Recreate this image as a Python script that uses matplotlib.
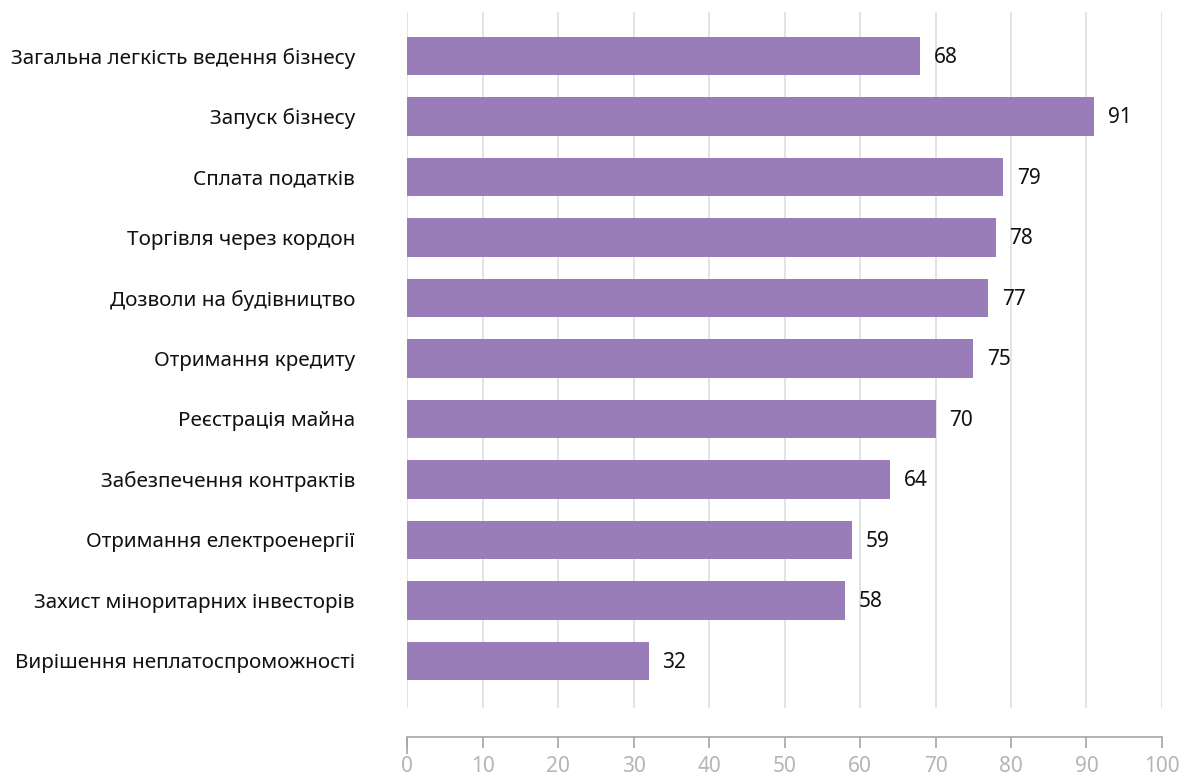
import matplotlib
matplotlib.use("Agg")
import matplotlib.pyplot as plt

plt.rcParams['font.family'] = ['Noto Sans', 'DejaVu Sans']

categories = [
    "Загальна легкість ведення бізнесу",
    "Запуск бізнесу",
    "Сплата податків",
    "Торгівля через кордон",
    "Дозволи на будівництво",
    "Отримання кредиту",
    "Реєстрація майна",
    "Забезпечення контрактів",
    "Отримання електроенергії",
    "Захист міноритарних інвесторів",
    "Вирішення неплатоспроможності",
]
values = [68, 91, 79, 78, 77, 75, 70, 64, 59, 58, 32]
x_ticks = [0, 10, 20, 30, 40, 50, 60, 70, 80, 90, 100]

bar_color = "#997db8"
grid_color = "#dedede"
axis_color = "#a6a6a6"

fig = plt.figure(figsize=(11.84, 7.78), dpi=100)
ax = fig.add_axes([0.3438, 0.09, 0.9814 - 0.3438, 0.9846 - 0.09])

pos = list(range(len(categories)))
ax.barh(pos, values, height=0.63, color=bar_color, zorder=3)
for p, v in zip(pos, values):
    ax.text(v + 1.8, p + 0.02, str(v), va="center", ha="left", fontsize=15, color="#111111")

ax.set_xlim(0, 100)
ax.set_ylim(10.777, -0.727)
ax.set_yticks(pos)
ax.set_yticklabels(categories)
ax.tick_params(axis="y", length=0, pad=37.5, labelsize=14.9, labelcolor="#111111")

ax.set_xticks(x_ticks)
ax.set_xticklabels([str(t) for t in x_ticks])
ax.tick_params(axis="x", length=8, width=1.2, color=axis_color, pad=6,
               labelsize=15, labelcolor="#b5b5b5")
# longer tick at zero
ax.xaxis.remove_overlapping_locs = False
ax.set_xticks([0], minor=True)
ax.set_xticklabels([""], minor=True)
ax.tick_params(axis="x", which="minor", length=12, width=1.2, color=axis_color)
ax.grid(axis="x", which="major", color=grid_color, linewidth=1.2, zorder=0)

for s in ["top", "right", "left"]:
    ax.spines[s].set_visible(False)
ax.spines["bottom"].set_position(("outward", 20.9))
ax.spines["bottom"].set_color(axis_color)
ax.spines["bottom"].set_linewidth(1.2)

fig.savefig("out.png", dpi=100)
